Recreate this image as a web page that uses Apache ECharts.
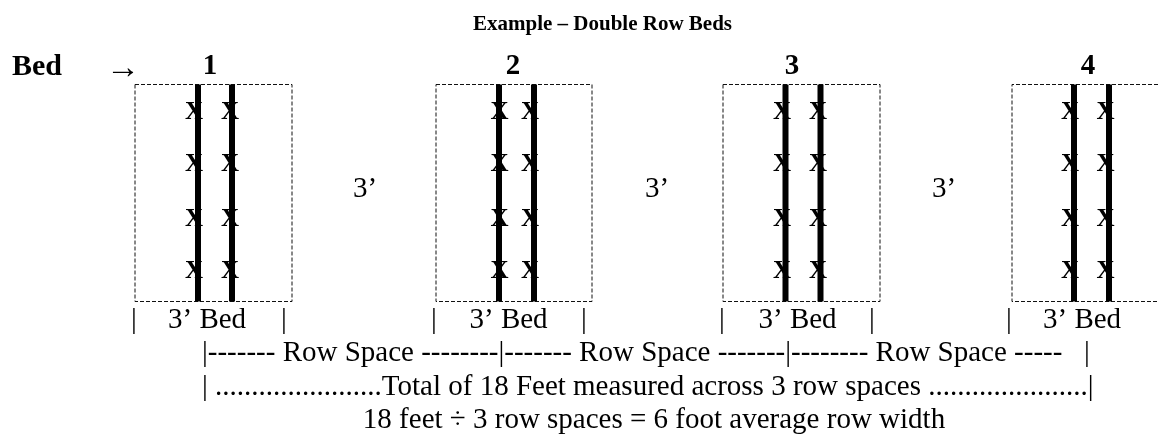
<!DOCTYPE html>
<html>
<head>
<meta charset="utf-8">
<script src="https://cdn.jsdelivr.net/npm/echarts@6/dist/echarts.min.js"></script>
<style>
html,body{margin:0;padding:0;background:#fff;}
#chart{width:1158px;height:436px;}
</style>
</head>
<body>
<div id="chart"></div>
<script>
// ---- diagram data (axis units: the drawing plane, x across, y down) ----
const titleText = 'Example – Double Row Beds';
const titlePos = [473, 25];
const bedWord = 'Bed';
const bedWordPos = [12, 67];
const arrowText = '→';
const arrowPos = [106, 69];

const bedNames = ['1', '2', '3', '4'];
const bedNameX = [210, 513, 792, 1088];
const bedNameY = 67;

const bedLeft = [135, 436, 723, 1012];
const bedRight = [292, 592, 880, 1158];
const bedOpenRight = [false, false, false, true];
const bedTop = 84.5;
const bedBottom = 301.5;

const rowLineX = [[198, 232], [499, 534], [785.5, 820.5], [1074, 1109]];
const plantX = [[194, 230], [499.5, 530], [782, 818], [1070, 1105.5]];
const plantY = [113, 165, 220, 271.5];
const plantMark = 'X';

const gapLabel = '3’';
const gapX = [365, 657, 944];
const gapY = 189;

const bedWidthLabel = '3’ Bed';
const bedWidthLabelX = [168, 469.5, 758.5, 1043];
const bedWidthBarX = [134, 284, 434, 584, 722, 872, 1009];
const bedWidthY = 320;

const rowSpaceLine = '|------- Row Space --------|------- Row Space -------|-------- Row Space -----   |';
const rowSpaceX = 202;
const rowSpaceY = 353.5;

const totalLine = '| .......................Total of 18 Feet measured across 3 row spaces ......................|';
const totalX = 202;
const totalY = 387;

const averageText = '18 feet ÷ 3 row spaces = 6 foot average row width';
const averagePos = [654, 420.5];

// ---- build label list ----
const SERIF = '"Liberation Serif","Times New Roman",serif';
const BODY = '29px ' + SERIF;
const texts = [];
function addText(x, y, t, font, align) { texts.push({ value: [x, y], t: t, font: font, align: align || 'left' }); }

addText(titlePos[0], titlePos[1], titleText, 'bold 21px ' + SERIF);
addText(bedWordPos[0], bedWordPos[1], bedWord, 'bold 30px ' + SERIF);
addText(arrowPos[0], arrowPos[1], arrowText, '34px ' + SERIF);
bedNames.forEach((n, i) => addText(bedNameX[i], bedNameY, n, 'bold 29px ' + SERIF, 'center'));
plantX.forEach(pair => pair.forEach(px => plantY.forEach(py => addText(px, py, plantMark, 'bold 25px ' + SERIF, 'center'))));
gapX.forEach(gx => addText(gx, gapY, gapLabel, BODY, 'center'));
bedWidthLabelX.forEach(lx => addText(lx, bedWidthY, bedWidthLabel, BODY));
bedWidthBarX.forEach(bx => addText(bx, bedWidthY, '|', BODY, 'center'));
addText(rowSpaceX, rowSpaceY, rowSpaceLine, BODY);
addText(totalX, totalY, totalLine, BODY);
addText(averagePos[0], averagePos[1], averageText, BODY, 'center');

// bed outlines as dashed polylines
const bedSeries = bedLeft.map((l, i) => {
  const r = bedRight[i];
  const pts = bedOpenRight[i]
    ? [[r, bedTop], [l, bedTop], [l, bedBottom], [r, bedBottom]]
    : [[l, bedTop], [r, bedTop], [r, bedBottom], [l, bedBottom], [l, bedTop]];
  return {
    type: 'line', data: pts, symbol: 'none', silent: true, animation: false,
    lineStyle: { color: '#111', width: 1, type: [4, 2] }, z: 1
  };
});

const rowLineData = [];
rowLineX.forEach(pair => pair.forEach(x => rowLineData.push([x, bedTop, bedBottom])));

const chart = echarts.init(document.getElementById('chart'), null, { renderer: 'canvas' });
chart.setOption({
  animation: false,
  backgroundColor: '#fff',
  grid: { left: 0, right: 0, top: 0, bottom: 0 },
  xAxis: { type: 'value', min: 0, max: 1158, show: false },
  yAxis: { type: 'value', min: 0, max: 436, inverse: true, show: false },
  series: bedSeries.concat([
    {
      type: 'custom', data: rowLineData, silent: true, z: 2,
      renderItem: (params, api) => {
        const a = api.coord([api.value(0), api.value(1)]);
        const b = api.coord([api.value(0), api.value(2)]);
        return { type: 'line', shape: { x1: a[0], y1: a[1], x2: b[0], y2: b[1] }, style: { stroke: '#000', lineWidth: 6 } };
      }
    },
    {
      type: 'custom', data: texts, silent: true, z: 3,
      renderItem: (params, api) => {
        const p = api.coord([api.value(0), api.value(1)]);
        const it = texts[params.dataIndex];
        return { type: 'text', x: p[0], y: p[1], style: { text: it.t, font: it.font, fill: '#000', align: it.align, verticalAlign: 'middle' } };
      }
    }
  ])
});
</script>
</body>
</html>
